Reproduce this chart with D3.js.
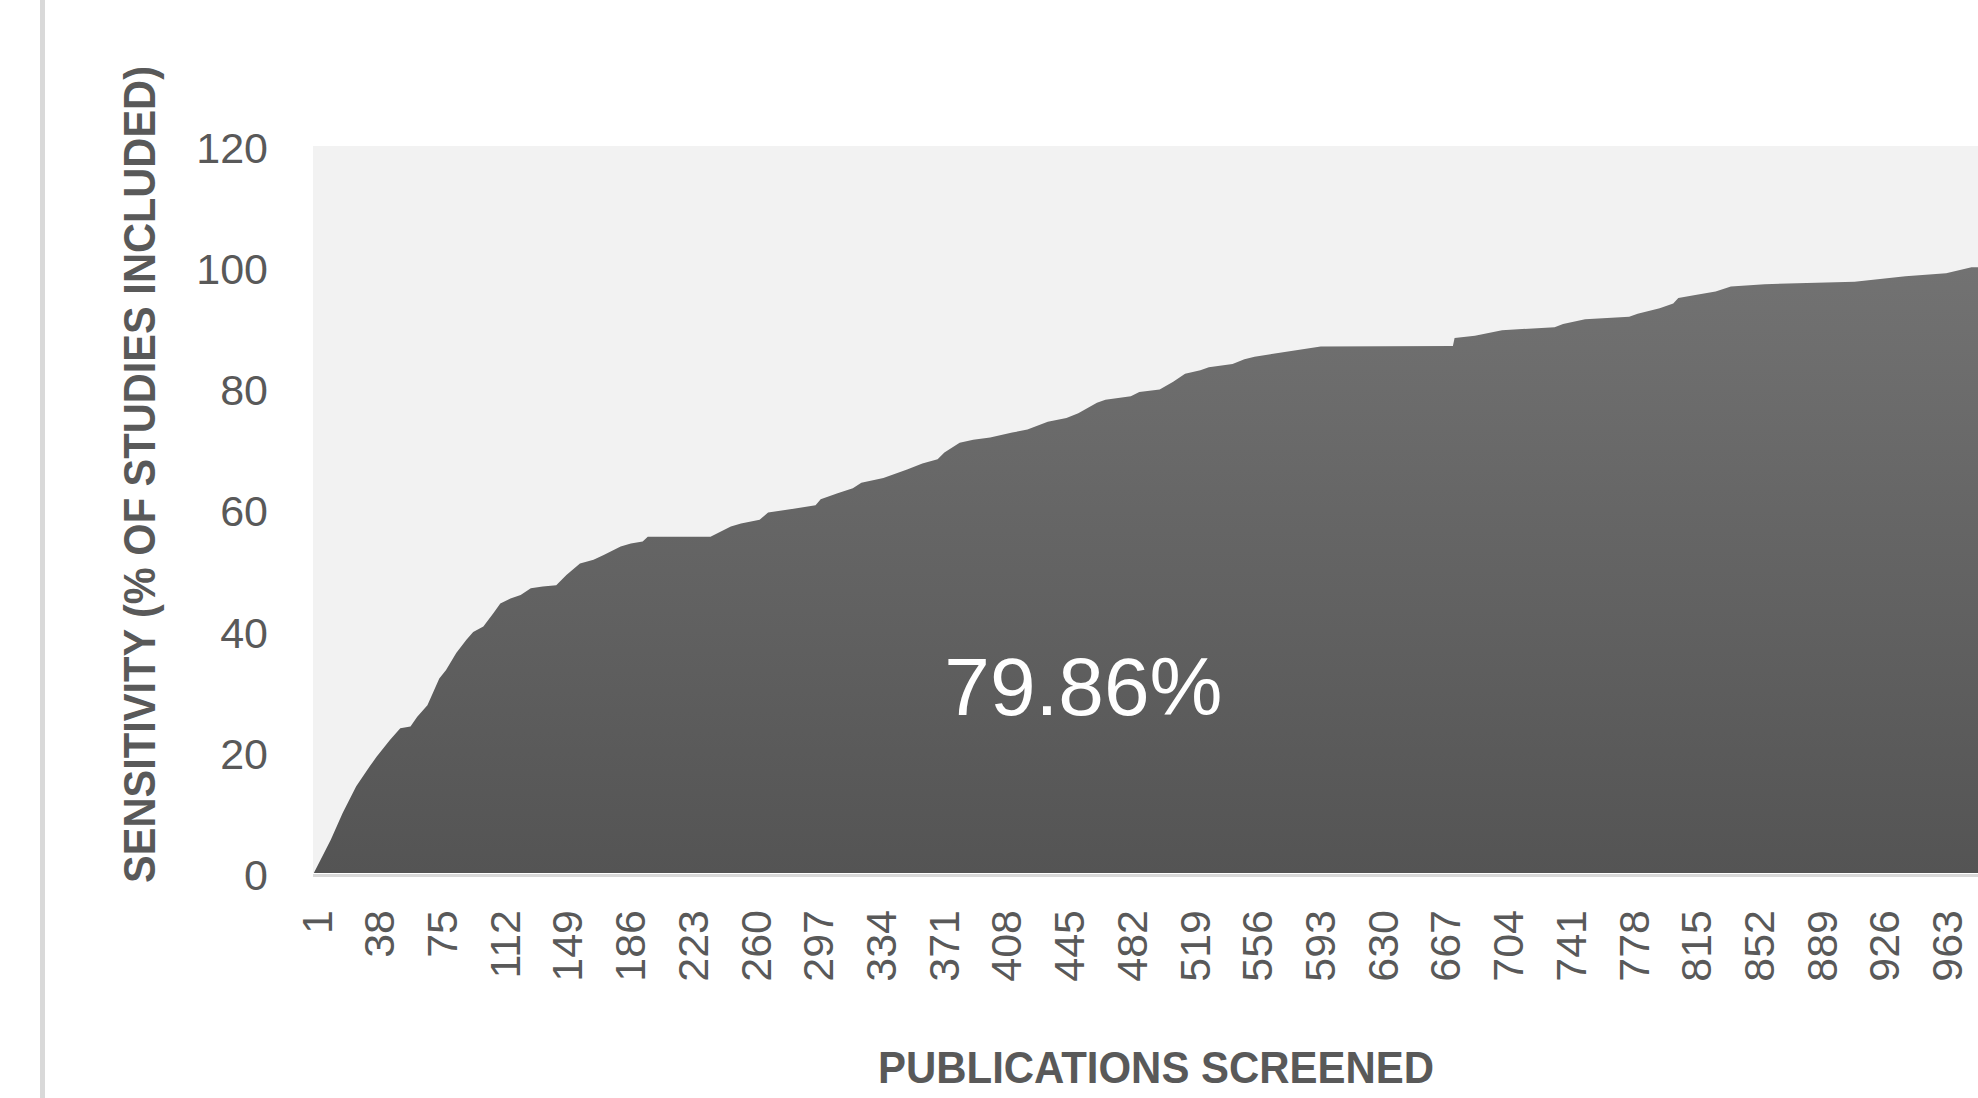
<!DOCTYPE html>
<html>
<head>
<meta charset="utf-8">
<script src="https://cdn.jsdelivr.net/npm/d3@7"></script>
<style>
  html, body { margin: 0; padding: 0; background: #ffffff; overflow: hidden; }
  svg { display: block; }
</style>
</head>
<body>
<svg id="chart" width="1978" height="1098"></svg>
<script>
// Cumulative sensitivity (% of included studies found) by publications screened
const publicationsScreened = [
  1, 11, 18, 26, 34, 38, 46, 52, 58, 62, 68, 72, 75, 79, 85, 91, 95, 101, 107, 111,
  117, 123, 129, 136, 144, 150, 158, 166, 172, 182, 188, 195, 198, 235, 247, 253, 264, 269, 279, 297,
  300, 310, 319, 324, 337, 351, 360, 369, 373, 382, 390, 400, 413, 422, 434, 445, 452, 463, 468, 483,
  488, 500, 508, 515, 524, 529, 543, 550, 556, 567, 595, 673, 674, 686, 702, 733, 738, 751, 777, 782,
  795, 803, 806, 816, 828, 837, 857, 910, 940, 964, 979, 983
];
const sensitivity = [
  0, 5.5, 9.9, 14.3, 17.6, 19.2, 22.0, 23.9, 24.2, 25.8, 27.7, 30.2, 32.1, 33.5, 36.3, 38.5, 39.8, 40.7, 42.9, 44.5,
  45.3, 45.9, 47.0, 47.3, 47.5, 49.2, 51.1, 51.7, 52.5, 53.9, 54.4, 54.7, 55.5, 55.5, 57.2, 57.7, 58.3, 59.5, 59.9, 60.7,
  61.7, 62.7, 63.5, 64.4, 65.2, 66.6, 67.6, 68.3, 69.4, 71.0, 71.5, 71.9, 72.7, 73.2, 74.5, 75.1, 75.9, 77.6, 78.1, 78.7,
  79.4, 79.8, 81.1, 82.4, 83.0, 83.5, 84.0, 84.8, 85.2, 85.7, 86.9, 87.0, 88.3, 88.7, 89.6, 90.1, 90.6, 91.4, 91.8, 92.3,
  93.2, 94.0, 94.9, 95.4, 96.0, 96.8, 97.2, 97.6, 98.5, 99.0, 100, 100
];
const xTickLabels = [1, 38, 75, 112, 149, 186, 223, 260, 297, 334, 371, 408, 445, 482, 519, 556, 593, 630, 667, 704, 741, 778, 815, 852, 889, 926, 963];
const yTickValues = [0, 20, 40, 60, 80, 100, 120];
const summaryLabel = "79.86%";
const xTitle = "PUBLICATIONS SCREENED";
const yTitle = "SENSITIVITY (% OF STUDIES INCLUDED)";

const data = publicationsScreened.map((n, i) => ({ n, v: sensitivity[i] }));

const W = 1978, H = 1098;
const plot = { left: 313, top: 146, bottom: 873 };
const unit = 1.695;                       // px per publication
const lastCat = publicationsScreened[publicationsScreened.length - 1];

const svg = d3.select("#chart");
const FONT = "'Liberation Sans', Arial, sans-serif";
const TEXT = "#595959";

const x = d3.scaleLinear()
  .domain([0.5, lastCat + 0.5])
  .range([plot.left, plot.left + lastCat * unit]);
const y = d3.scaleLinear()
  .domain([0, 120])
  .range([plot.bottom, plot.top]);

// outer frame edge on the left
svg.append("rect")
  .attr("x", 40).attr("y", 0).attr("width", 5).attr("height", H)
  .attr("fill", "#d9d9d9");

// plot background
svg.append("rect")
  .attr("x", plot.left).attr("y", plot.top)
  .attr("width", W - plot.left).attr("height", plot.bottom - plot.top)
  .attr("fill", "#f2f2f2");

// area fill gradient
const defs = svg.append("defs");
const grad = defs.append("linearGradient")
  .attr("id", "areaFill")
  .attr("gradientUnits", "userSpaceOnUse")
  .attr("x1", 0).attr("x2", 0)
  .attr("y1", y(100)).attr("y2", y(0));
grad.append("stop").attr("offset", "0%").attr("stop-color", "#727272");
grad.append("stop").attr("offset", "100%").attr("stop-color", "#545454");

const area = d3.area()
  .x(d => x(d.n))
  .y0(y(0))
  .y1(d => y(d.v))
  .curve(d3.curveLinear);

svg.append("path")
  .datum(data)
  .attr("d", area)
  .attr("fill", "url(#areaFill)");

// horizontal axis line under the area
svg.append("line")
  .attr("x1", plot.left).attr("x2", W)
  .attr("y1", y(0) + 2.5).attr("y2", y(0) + 2.5)
  .attr("stroke", "#d9d9d9").attr("stroke-width", 3);

// y axis
const yAxis = svg.append("g")
  .attr("transform", `translate(${plot.left},0)`)
  .call(d3.axisLeft(y).tickValues(yTickValues).tickSize(0).tickPadding(45));
yAxis.select(".domain").remove();
yAxis.selectAll("text")
  .attr("font-family", FONT).attr("font-size", 43)
  .attr("fill", TEXT).attr("dy", "0.38em");

// x axis with rotated category labels
const xAxis = svg.append("g")
  .attr("transform", `translate(0,${y(0)})`)
  .call(d3.axisBottom(x).tickValues(xTickLabels).tickSize(0).tickFormat(d3.format("d")));
xAxis.select(".domain").remove();
xAxis.selectAll("text")
  .attr("font-family", FONT).attr("font-size", 43)
  .attr("fill", TEXT)
  .attr("transform", "rotate(-90)")
  .attr("text-anchor", "end")
  .attr("x", -37)
  .attr("y", 0)
  .attr("dy", "0.4em");

// axis titles
svg.append("text")
  .attr("x", (878 + 1434) / 2).attr("y", 1083)
  .attr("text-anchor", "middle")
  .attr("font-family", FONT).attr("font-weight", "bold").attr("font-size", 45)
  .attr("fill", TEXT)
  .attr("textLength", 556).attr("lengthAdjust", "spacingAndGlyphs")
  .text(xTitle);

svg.append("text")
  .attr("transform", `translate(155,${(66 + 883) / 2}) rotate(-90)`)
  .attr("text-anchor", "middle")
  .attr("font-family", FONT).attr("font-weight", "bold").attr("font-size", 45)
  .attr("fill", TEXT)
  .attr("textLength", 817).attr("lengthAdjust", "spacingAndGlyphs")
  .text(yTitle);

// summary value inside the area
svg.append("text")
  .attr("x", x(455)).attr("y", y(26))
  .attr("text-anchor", "middle")
  .attr("font-family", FONT).attr("font-size", 82)
  .attr("fill", "#ffffff")
  .text(summaryLabel);
</script>
</body>
</html>
